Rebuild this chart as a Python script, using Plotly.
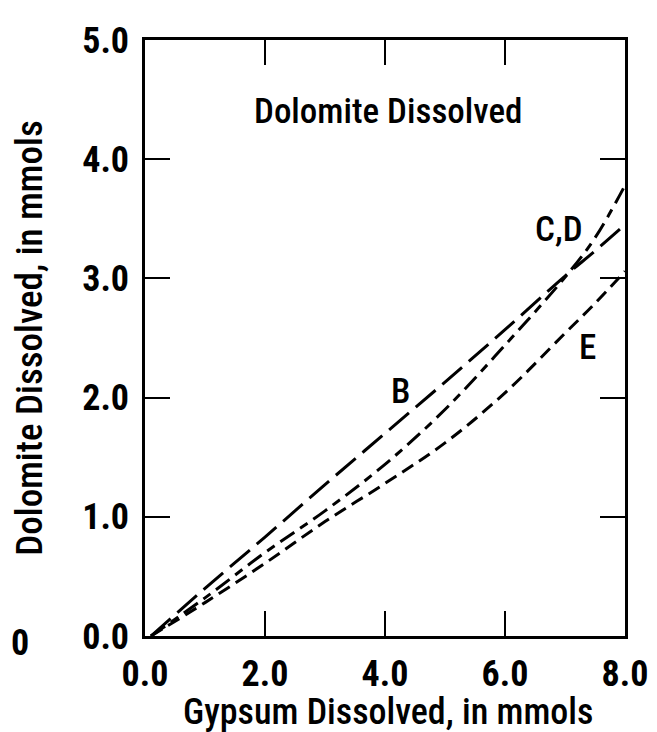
import plotly.graph_objects as go

# Gypsum dissolved (mmol) sample points
x_vals = [0.1, 1.0, 2.0, 3.0, 4.0, 5.0, 6.0, 7.0, 7.5, 8.0]
# Dolomite dissolved (mmol) for each curve
curve_B = [0.0, 0.40, 0.83, 1.27, 1.70, 2.13, 2.57, 3.02, 3.23, 3.45]
curve_CD = [0.0, 0.32, 0.70, 1.05, 1.44, 1.90, 2.44, 3.01, 3.34, 3.78]
curve_E = [0.0, 0.28, 0.61, 0.96, 1.28, 1.62, 2.04, 2.54, 2.79, 3.06]

x_ticks = [0, 2, 4, 6, 8]
x_tick_text = ["0.0", "2.0", "4.0", "6.0", "8.0"]
y_ticks = [0, 1, 2, 3, 4, 5]
y_tick_text = ["0.0", "1.0", "2.0", "3.0", "4.0", "5.0"]

FONT = "Roboto Condensed, Open Sans Condensed, sans-serif"

fig = go.Figure()
fig.add_trace(go.Scatter(x=x_vals, y=curve_B, mode="lines", line=dict(color="black", width=3, dash="26px,9px", shape="spline"), showlegend=False))
fig.add_trace(go.Scatter(x=x_vals, y=curve_CD, mode="lines", line=dict(color="black", width=3, dash="17px,7px,9px,7px", shape="spline"), showlegend=False))
fig.add_trace(go.Scatter(x=x_vals, y=curve_E, mode="lines", line=dict(color="black", width=3, dash="13px,7px", shape="spline"), showlegend=False))

ann_font = dict(family=FONT, size=35, color="black", weight=500)
fig.add_annotation(x=4.05, y=4.4, text="Dolomite Dissolved", showarrow=False, font=ann_font)
fig.add_annotation(x=4.25, y=2.05, text="B", showarrow=False, font=ann_font)
fig.add_annotation(x=6.9, y=3.41, text="C,D", showarrow=False, font=ann_font)
fig.add_annotation(x=7.38, y=2.42, text="E", showarrow=False, font=ann_font)
fig.add_annotation(x=-0.283, y=-0.050, xref="paper", yref="paper", xanchor="left", text="0", showarrow=False,
                   font=dict(family=FONT, size=36, color="black", weight="bold"))
# x-axis title
fig.add_annotation(x=0.506, y=-0.128, xref="paper", yref="paper", xanchor="center", yanchor="middle",
                   text="Gypsum Dissolved, in mmols", showarrow=False,
                   font=dict(family=FONT, size=36, color="black", weight=500))

axis_common = dict(showline=True, linecolor="black", linewidth=2.5, mirror="ticks",
                   ticks="inside", ticklen=25, tickwidth=2, tickcolor="black",
                   showgrid=False, zeroline=False,
                   tickfont=dict(family=FONT, size=36, color="black", weight="bold"))

fig.update_xaxes(range=[0, 8], tickvals=x_ticks, ticktext=x_tick_text, ticklabelstandoff=4,
                 **axis_common)
fig.update_yaxes(range=[0, 5], tickvals=y_ticks, ticktext=y_tick_text, ticklabelstandoff=6,
                 title=dict(text="Dolomite Dissolved, in mmols", font=dict(family=FONT, size=37, color="black", weight=500), standoff=34),
                 **axis_common)

fig.update_layout(width=657, height=732, margin=dict(l=137, r=40, t=29, b=104),
                  paper_bgcolor="white", plot_bgcolor="white")

fig.write_html("out.html")
